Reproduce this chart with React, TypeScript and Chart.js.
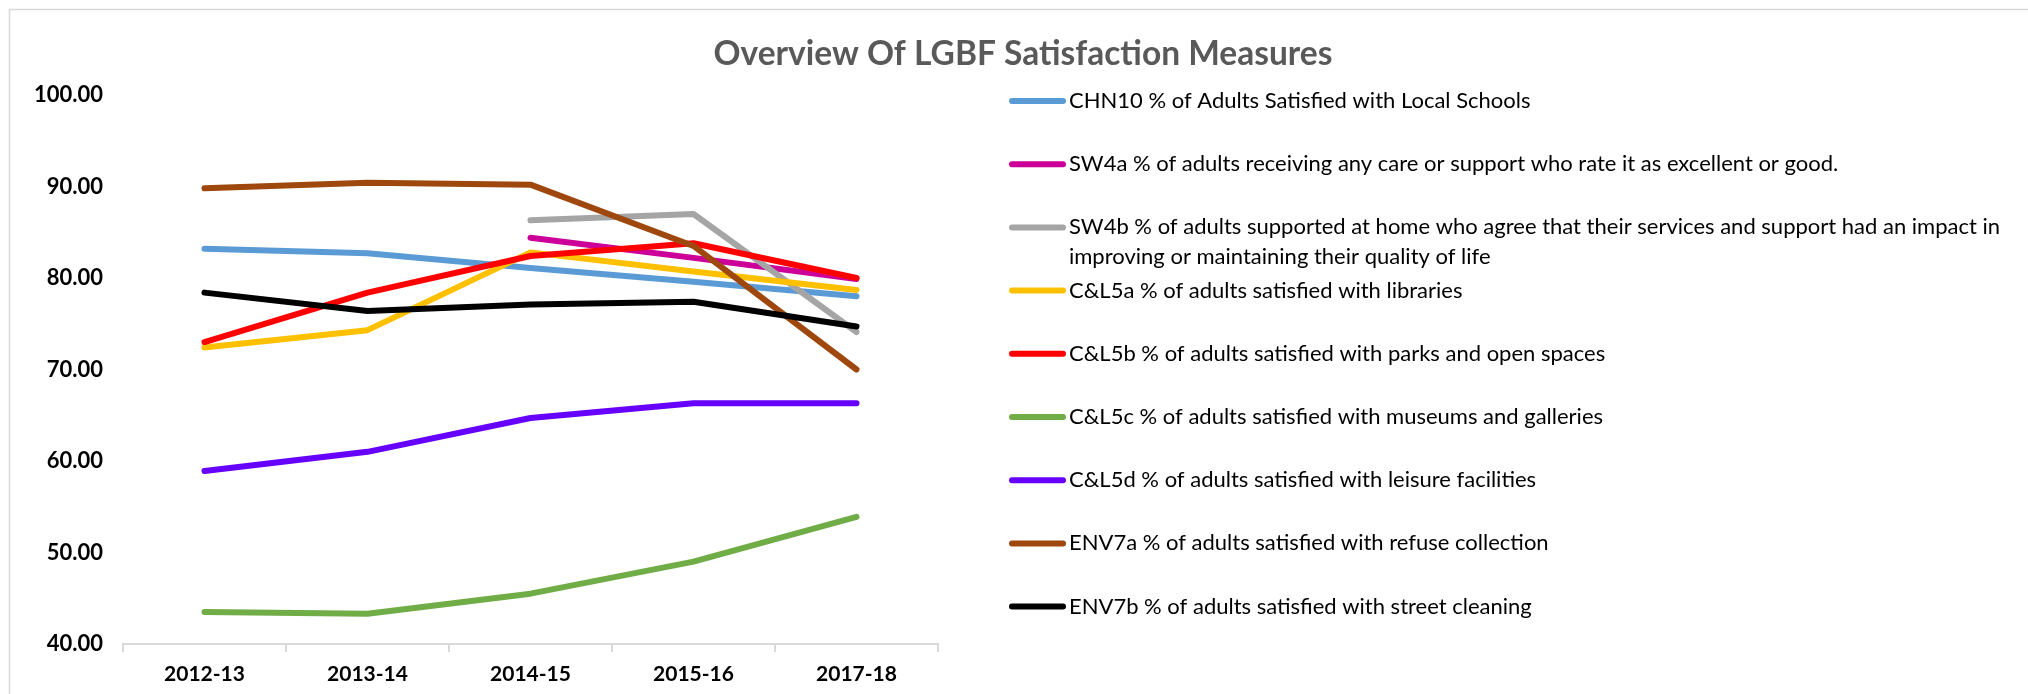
import React, { useEffect, useRef } from "react";
import { Chart, registerables } from "chart.js";

Chart.register(...registerables);

const chartTitle = "Overview Of LGBF Satisfaction Measures";
const categories = ["2012-13", "2013-14", "2014-15", "2015-16", "2017-18"];

const chn10 = [83.2, 82.7, 81.1, 79.6, 78.0];
const sw4a = [null, null, 84.4, 82.2, 79.9];
const sw4b = [null, null, 86.3, 87.0, 74.1];
const cl5a = [72.4, 74.3, 82.8, 80.7, 78.7];
const cl5b = [73.0, 78.4, 82.4, 83.8, 80.0];
const cl5c = [43.5, 43.3, 45.5, 49.0, 53.9];
const cl5d = [58.9, 61.0, 64.7, 66.3, 66.3];
const env7a = [89.8, 90.4, 90.2, 83.5, 70.0];
const env7b = [78.4, 76.4, 77.1, 77.4, 74.7];

const seriesLabels = [
  "CHN10 % of Adults Satisfied with Local Schools",
  "SW4a % of adults receiving any care or support who rate it as excellent or good.",
  "SW4b % of adults supported at home who agree that their services and support had an impact in improving or maintaining their quality of life",
  "C&L5a % of adults satisfied with libraries",
  "C&L5b % of adults satisfied with parks and open spaces",
  "C&L5c % of adults satisfied with museums and galleries",
  "C&L5d % of adults satisfied with leisure facilities",
  "ENV7a % of adults satisfied with refuse collection",
  "ENV7b % of adults satisfied with street cleaning",
];
const seriesValues = [chn10, sw4a, sw4b, cl5a, cl5b, cl5c, cl5d, env7a, env7b];
const seriesColors = [
  "#5B9BD5",
  "#CC0099",
  "#A5A5A5",
  "#FFC000",
  "#FF0000",
  "#70AD47",
  "#6600FF",
  "#9E480E",
  "#000000",
];

const yMin = 40;
const yMax = 100;
const yStep = 10;

const FONT = "Lato";

const framePlugin = {
  id: "frame",
  beforeDraw(chart: any) {
    const ctx = chart.ctx;
    ctx.save();
    ctx.fillStyle = "#ffffff";
    ctx.fillRect(0, 0, chart.width, chart.height);
    ctx.strokeStyle = "#d9d9d9";
    ctx.lineWidth = 1.5;
    ctx.strokeRect(9.5, 9.5, chart.width + 20, chart.height + 20);
    ctx.restore();
  },
};

const titlePlugin = {
  id: "customTitle",
  afterDraw(chart: any) {
    const ctx = chart.ctx;
    ctx.save();
    ctx.font = `bold 33.5px ${FONT}`;
    ctx.fillStyle = "#595959";
    ctx.textAlign = "center";
    ctx.textBaseline = "middle";
    ctx.fillText(chartTitle, 1023, 54);
    ctx.restore();
  },
};

const legendPlugin = {
  id: "sideLegend",
  afterDraw(chart: any) {
    const ctx = chart.ctx;
    const x0 = 1012;
    const x1 = 1063;
    const tx = 1069;
    const top = 101;
    const step = 63.2;
    const lineH = 30;
    const maxW = chart.width - tx - 2;
    ctx.save();
    ctx.font = `22px ${FONT}`;
    ctx.textAlign = "left";
    ctx.textBaseline = "middle";
    chart.data.datasets.forEach((ds: any, i: number) => {
      const y = top + i * step;
      ctx.strokeStyle = ds.borderColor;
      ctx.lineWidth = 6;
      ctx.lineCap = "round";
      ctx.beginPath();
      ctx.moveTo(x0, y);
      ctx.lineTo(x1, y);
      ctx.stroke();
      const words = String(ds.label).split(" ");
      const lines: string[] = [];
      let cur = "";
      words.forEach((w) => {
        const test = cur ? cur + " " + w : w;
        if (ctx.measureText(test).width > maxW && cur) {
          lines.push(cur);
          cur = w;
        } else {
          cur = test;
        }
      });
      if (cur) lines.push(cur);
      ctx.fillStyle = "#000000";
      lines.forEach((ln, k) => ctx.fillText(ln, tx, y + k * lineH));
    });
    ctx.restore();
  },
};

export default function App() {
  const ref = useRef<HTMLCanvasElement | null>(null);

  useEffect(() => {
    if (!ref.current) return;
    const n = seriesValues.length;
    const chart = new Chart(ref.current, {
      type: "line",
      data: {
        labels: categories,
        datasets: seriesValues.map((vals, i) => ({
          label: seriesLabels[i],
          data: vals,
          borderColor: seriesColors[i],
          backgroundColor: seriesColors[i],
          borderWidth: 6,
          borderCapStyle: "round",
          borderJoinStyle: "round",
          pointRadius: 0,
          pointHoverRadius: 0,
          tension: 0,
          fill: false,
          spanGaps: false,
          order: n - i,
        })),
      },
      options: {
        responsive: false,
        animation: false,
        devicePixelRatio: 1,
        layout: { padding: { left: 0, top: 95, right: 2028 - 938, bottom: 0 } },
        plugins: {
          legend: { display: false },
          title: { display: false },
          tooltip: { enabled: false },
        },
        scales: {
          x: {
            type: "category",
            offset: true,
            grid: {
              display: true,
              drawOnChartArea: false,
              drawTicks: true,
              tickLength: 8,
              color: "#d9d9d9",
              lineWidth: 2,
              offset: true,
            },
            border: { display: true, color: "#d9d9d9", width: 2 },
            ticks: {
              color: "#000000",
              font: { family: FONT, size: 21, weight: "bold" },
              padding: 10,
              maxRotation: 0,
            },
            afterFit: (s: any) => {
              s.height = 50;
            },
          },
          y: {
            min: yMin,
            max: yMax,
            grid: { display: false, drawTicks: false },
            border: { display: false },
            ticks: {
              stepSize: yStep,
              color: "#000000",
              font: { family: FONT, size: 22, weight: "bold" },
              padding: 20,
              callback: (v: any) => Number(v).toFixed(2),
            },
            afterFit: (s: any) => {
              s.width = 123;
            },
          },
        },
      },
      plugins: [framePlugin, titlePlugin, legendPlugin],
    });
    return () => chart.destroy();
  }, []);

  return (
    <div style={{ position: "absolute", left: 0, top: 0, width: 2028, height: 694 }}>
      <canvas ref={ref} width={2028} height={694} style={{ display: "block" }} />
    </div>
  );
}
